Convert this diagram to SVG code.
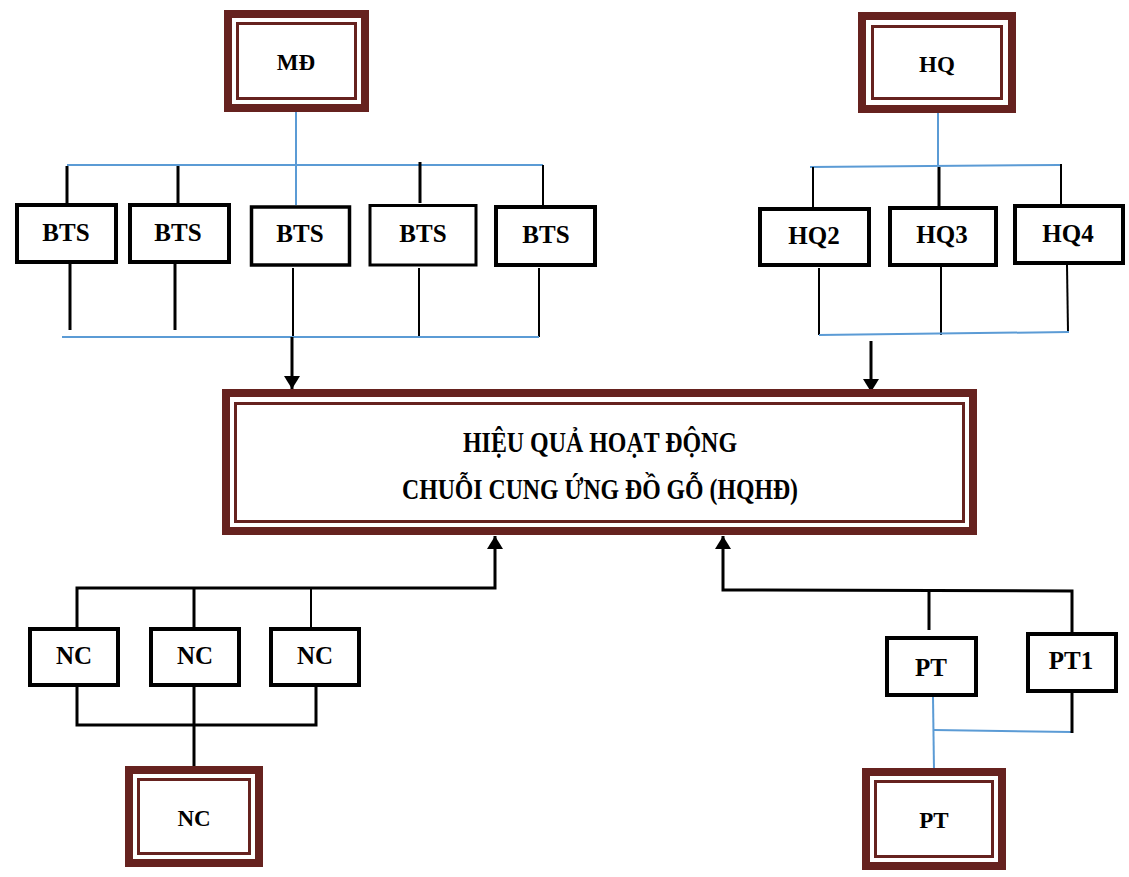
<svg xmlns="http://www.w3.org/2000/svg" width="1129" height="877" viewBox="0 0 1129 877">
<defs>
<style>
.box{fill:#fff;stroke:#000;stroke-width:4}
.thick{fill:#fff;stroke:#66221F;stroke-width:8}
.thin{fill:none;stroke:#66221F;stroke-width:3}
.lbl{font-family:"Liberation Serif","Times New Roman",serif;font-weight:bold;font-size:25px;text-anchor:middle;fill:#000}
.big{font-size:23px}
.main{font-family:"Liberation Serif","Times New Roman",serif;font-weight:bold;font-size:30px;text-anchor:middle;fill:#000}
.k{stroke:#000;stroke-width:3;fill:none}
.k2{stroke:#000;stroke-width:2;fill:none}
.b{stroke:#5B9BD5;stroke-width:2;fill:none}
</style>
<marker id="ah" viewBox="0 0 13 16" refX="13" refY="8" markerWidth="13" markerHeight="16" markerUnits="userSpaceOnUse" orient="auto">
<path d="M0,0 L13,8 L0,16 z" fill="#000"/>
</marker>
</defs>

<g id="connectors">
<line class="b" x1="296" y1="112" x2="296" y2="205"/>
<line class="b" x1="67" y1="165" x2="543" y2="165"/>
<line class="k" x1="67" y1="166" x2="67" y2="203"/>
<line class="k" x1="178" y1="166" x2="178" y2="203"/>
<line class="k" x1="420" y1="162" x2="420" y2="203"/>
<line class="k2" x1="543" y1="165" x2="543" y2="205"/>
<line class="k" x1="70" y1="264" x2="70" y2="330"/>
<line class="k" x1="175" y1="264" x2="175" y2="330"/>
<line class="k2" x1="293" y1="268" x2="293" y2="337"/>
<line class="k2" x1="419" y1="268" x2="419" y2="337"/>
<line class="k2" x1="539" y1="268" x2="539" y2="337"/>
<line class="b" x1="62" y1="337" x2="539" y2="337"/>
<line class="k" x1="292" y1="337" x2="292" y2="389" marker-end="url(#ah)"/>
<line class="b" x1="938" y1="113" x2="938" y2="166"/>
<line class="b" x1="810" y1="167" x2="1060" y2="165"/>
<line class="k2" x1="813" y1="167" x2="813" y2="207"/>
<line class="k" x1="939" y1="167" x2="939" y2="206"/>
<line class="k2" x1="1061" y1="164" x2="1061" y2="204"/>
<line class="k2" x1="819" y1="268" x2="819" y2="335"/>
<line class="k2" x1="941" y1="267" x2="941" y2="335"/>
<line class="k2" x1="1067" y1="265" x2="1068" y2="332"/>
<line class="b" x1="819" y1="335" x2="1069" y2="332"/>
<line class="k" x1="871" y1="341" x2="871" y2="392" marker-end="url(#ah)"/>
<polyline class="k" points="77,627 77,588 495,588 495,536" marker-end="url(#ah)"/>
<line class="k" x1="194" y1="588" x2="194" y2="627"/>
<line class="k2" x1="311" y1="588" x2="311" y2="627"/>
<polyline class="k" points="77,687 77,725 316,725 316,687"/>
<line class="k" x1="194" y1="687" x2="194" y2="767"/>
<polyline class="k" points="1072,632 1072,591 723,590 723,536" marker-end="url(#ah)"/>
<line class="k" x1="929" y1="591" x2="929" y2="630"/>
<line class="b" x1="933" y1="697" x2="934" y2="770"/>
<line class="b" x1="934" y1="730" x2="1071" y2="732"/>
<line class="k" x1="1072" y1="693" x2="1072" y2="733"/>
</g>

<g id="node-md">
<rect class="thick" x="228" y="14" width="137" height="94"/>
<rect class="thin" x="237.5" y="23.5" width="118" height="75"/>
<text class="lbl big" x="296" y="70">MĐ</text>
</g>
<g id="node-hq">
<rect class="thick" x="862" y="16" width="150" height="93"/>
<rect class="thin" x="872.5" y="26.5" width="129" height="72"/>
<text class="lbl big" x="937" y="72">HQ</text>
</g>

<g id="node-bts1"><rect class="box" x="17" y="205" width="99" height="57"/><text class="lbl" x="66" y="241">BTS</text></g>
<g id="node-bts2"><rect class="box" x="130" y="205" width="99" height="57"/><text class="lbl" x="178" y="241">BTS</text></g>
<g id="node-bts3"><rect class="box" x="251.5" y="207" width="98" height="58" style="stroke-width:3.5"/><text class="lbl" x="300" y="242">BTS</text></g>
<g id="node-bts4"><rect class="box" x="370" y="205.5" width="106" height="59.5" style="stroke-width:3"/><text class="lbl" x="423" y="242">BTS</text></g>
<g id="node-bts5"><rect class="box" x="496" y="207" width="99" height="58"/><text class="lbl" x="546" y="243">BTS</text></g>

<g id="node-hq2"><rect class="box" x="760" y="209" width="109" height="56"/><text class="lbl" x="814" y="244">HQ2</text></g>
<g id="node-hq3"><rect class="box" x="890" y="208" width="106" height="57"/><text class="lbl" x="942" y="243">HQ3</text></g>
<g id="node-hq4"><rect class="box" x="1015" y="206" width="108" height="57"/><text class="lbl" x="1068" y="242">HQ4</text></g>

<g id="node-main">
<rect class="thick" x="226" y="393" width="747" height="138"/>
<rect class="thin" x="235.5" y="403.5" width="728" height="118"/>
<text class="main" x="600" y="452" textLength="274" lengthAdjust="spacingAndGlyphs">HIỆU QUẢ HOẠT ĐỘNG</text>
<text class="main" x="600" y="499" textLength="396" lengthAdjust="spacingAndGlyphs">CHUỖI CUNG ỨNG ĐỒ GỖ (HQHĐ)</text>
</g>

<g id="node-nc1"><rect class="box" x="30" y="629" width="88" height="56"/><text class="lbl" x="74" y="664">NC</text></g>
<g id="node-nc2"><rect class="box" x="151" y="629" width="88" height="56"/><text class="lbl" x="195" y="664">NC</text></g>
<g id="node-nc3"><rect class="box" x="271" y="629" width="88" height="56"/><text class="lbl" x="315" y="664">NC</text></g>
<g id="node-nc-main">
<rect class="thick" x="129" y="770" width="130" height="93"/>
<rect class="thin" x="138.5" y="779.5" width="111" height="74"/>
<text class="lbl big" x="194" y="826">NC</text>
</g>

<g id="node-pt"><rect class="box" x="887" y="638" width="89" height="57"/><text class="lbl" x="931" y="676">PT</text></g>
<g id="node-pt1"><rect class="box" x="1028" y="634" width="88" height="57"/><text class="lbl" x="1071" y="669">PT1</text></g>
<g id="node-pt-main">
<rect class="thick" x="866" y="772" width="136" height="94"/>
<rect class="thin" x="875.5" y="781.5" width="117" height="75"/>
<text class="lbl big" x="934" y="828">PT</text>
</g>
</svg>
